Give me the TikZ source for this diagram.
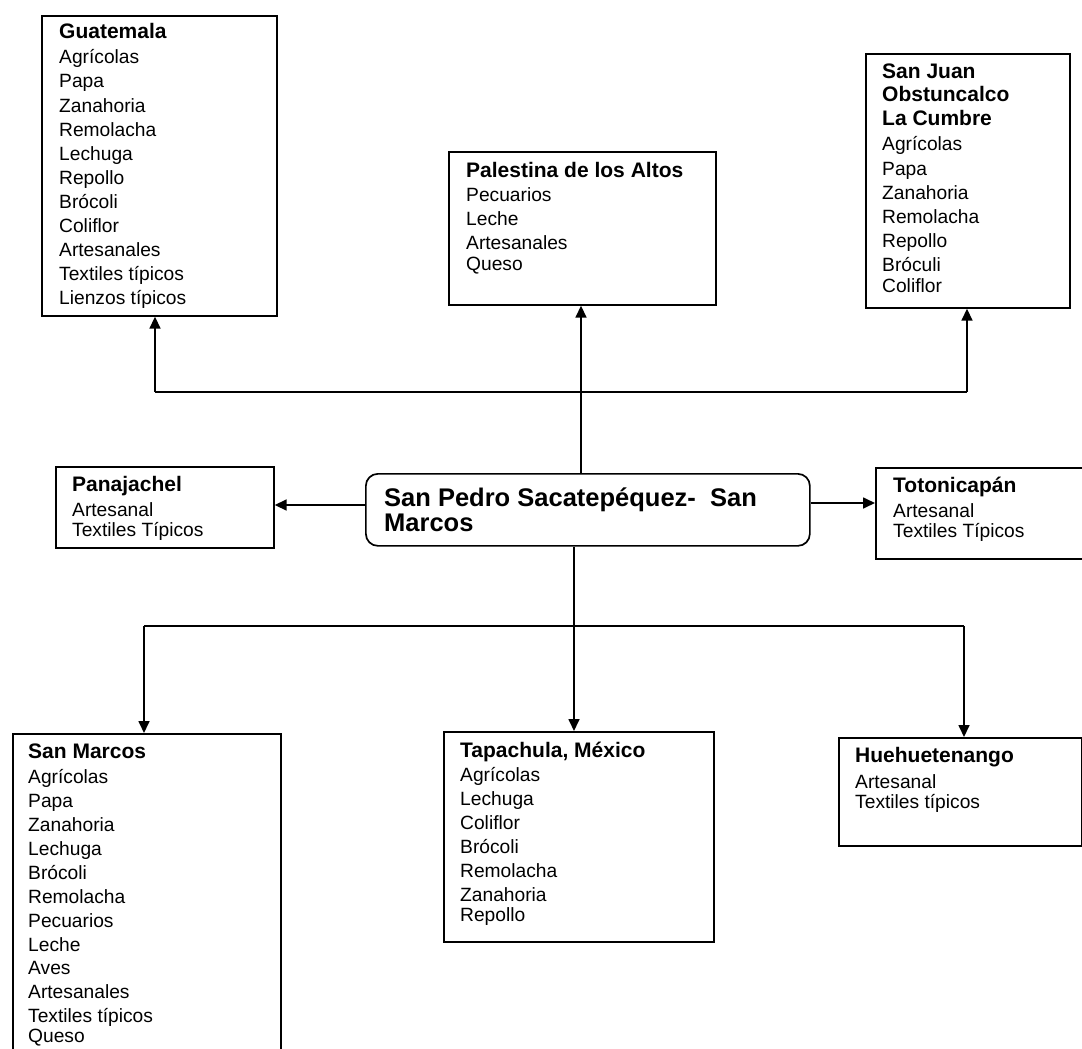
\documentclass[tikz,border=0pt]{standalone}
\usepackage{fontspec}
\setmainfont{Liberation Sans}
\usetikzlibrary{arrows.meta}
\begin{document}
\begin{tikzpicture}[x=1pt,y=-1pt,
  box/.style={draw, line width=1.7pt, inner sep=0pt, anchor=north west},
  title/.style={anchor=base west, inner sep=0pt, font=\fontsize{21}{24}\selectfont\bfseries},
  item/.style={anchor=base west, inner sep=0pt, font=\fontsize{19.2}{24}\selectfont},
  ctitle/.style={anchor=base west, inner sep=0pt, font=\fontsize{25.5}{25}\selectfont\bfseries},
  conn/.style={line width=1.7pt},
  arr/.style={line width=1.7pt, -{Triangle[length=12pt,width=11pt]}}]
\clip (0,0) rectangle (1082,1049);
\fill[white] (0,0) rectangle (1082,1049);

% boxes
\node[box, minimum width=235pt, minimum height=300pt] (gua) at (41,15) {};
\node[box, minimum width=267pt, minimum height=153pt] (pal) at (448,151) {};
\node[box, minimum width=204pt, minimum height=254pt] (sj) at (865,53) {};
\node[box, minimum width=218pt, minimum height=81pt] (pan) at (55,466) {};
\node[box, rounded corners=12pt, minimum width=444pt, minimum height=72pt] (cen) at (365,473) {};
\node[box, minimum width=210pt, minimum height=91pt] (tot) at (875,467) {};
\node[box, minimum width=268pt, minimum height=330pt] (sm) at (12,733) {};
\node[box, minimum width=270pt, minimum height=210pt] (tap) at (443,731) {};
\node[box, minimum width=243pt, minimum height=108pt] (hue) at (838,737) {};

% Guatemala
\node[title] (gua-t) at (59,39) {Guatemala};
\foreach \t/\y [count=\i] in {Agrícolas/64, Papa/88, Zanahoria/112, Remolacha/136, Lechuga/160, Repollo/184, Brócoli/208, Coliflor/232, Artesanales/256, Textiles típicos/280, Lienzos típicos/304}
  \node[item] (gua-\i) at (59,\y) {\t};

% Palestina
\node[title] (pal-t) at (466,177) {Palestina de los Altos};
\foreach \t/\y [count=\i] in {Pecuarios/201, Leche/225, Artesanales/249, Queso/270}
  \node[item] (pal-\i) at (466,\y) {\t};

% San Juan
\node[title] (sj-t1) at (882,78) {San Juan};
\node[title] (sj-t2) at (882,102) {Obstuncalco};
\node[title] (sj-t3) at (882,125) {La Cumbre};
\foreach \t/\y [count=\i] in {Agrícolas/150, Papa/175, Zanahoria/199, Remolacha/223, Repollo/247, Bróculi/271, Coliflor/292}
  \node[item] (sj-\i) at (882,\y) {\t};

% Panajachel
\node[title] (pan-t) at (72,491) {Panajachel};
\node[item] (pan-1) at (72,516) {Artesanal};
\node[item] (pan-2) at (72,536) {Textiles Típicos};

% Center
\node[ctitle] (cen-1) at (384,506) {San Pedro Sacatepéquez-\ \ San};
\node[ctitle] (cen-2) at (384,531) {Marcos};

% Totonicapan
\node[title] (tot-t) at (893,492) {Totonicapán};
\node[item] (tot-1) at (893,517) {Artesanal};
\node[item] (tot-2) at (893,537) {Textiles Típicos};

% San Marcos
\node[title] (sm-t) at (28,758) {San Marcos};
\foreach \t/\y [count=\i] in {Agrícolas/783, Papa/807, Zanahoria/831, Lechuga/855, Brócoli/879, Remolacha/903, Pecuarios/927, Leche/951, Aves/974, Artesanales/998, Textiles típicos/1022, Queso/1042}
  \node[item] (sm-\i) at (28,\y) {\t};

% Tapachula
\node[title] (tap-t) at (460,757) {Tapachula, México};
\foreach \t/\y [count=\i] in {Agrícolas/781, Lechuga/805, Coliflor/829, Brócoli/853, Remolacha/877, Zanahoria/901, Repollo/921}
  \node[item] (tap-\i) at (460,\y) {\t};

% Huehuetenango
\node[title] (hue-t) at (855,762) {Huehuetenango};
\node[item] (hue-1) at (855,788) {Artesanal};
\node[item] (hue-2) at (855,808) {Textiles típicos};

% connectors top
\coordinate (tl) at (155,392);
\coordinate (tr) at (967,392);
\coordinate (cx) at (581,0);
\draw[conn] (tl) -- (tr);
\draw[arr] (tl) -- (tl |- gua.south);
\draw[arr] (tr) -- (tr |- sj.south);
\draw[arr] (cx |- cen.north) -- (cx |- pal.south);

% connectors sides
\draw[arr] (cen.west |- 0,505) -- (pan.east |- 0,505);
\draw[arr] (cen.east |- 0,503) -- (tot.west |- 0,503);

% connectors bottom
\coordinate (bl) at (144,626);
\coordinate (br) at (964,626);
\coordinate (bx) at (574,0);
\draw[conn] (bl) -- (br);
\draw[arr] (bx |- cen.south) -- (bx |- tap.north);
\draw[arr] (bl) -- (bl |- sm.north);
\draw[arr] (br) -- (br |- hue.north);
\end{tikzpicture}
\end{document}
